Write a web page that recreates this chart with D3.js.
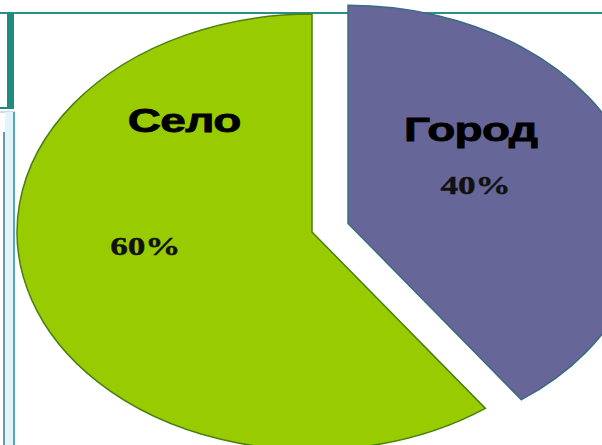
<!DOCTYPE html>
<html>
<head>
<meta charset="utf-8">
<script src="https://cdn.jsdelivr.net/npm/d3@7"></script>
<style>
  body { margin: 0; background: #fff; }
  svg { display: block; }
</style>
</head>
<body>
<div class="pie_chart"></div>
<script>
const categories = ['Город', 'Село']
const values = [40, 60]
const percentLabels = ['40%', '60%']
const colors = ['#666699', '#99cc00']
const strokes = ['#3d6a80', '#4a7f12']

const width = 602
const height = 445
const radius = 218
const stretch = 1.353 // the slide picture is stretched sideways

const svg = d3.select('.pie_chart').append('svg')
  .attr('width', width)
  .attr('height', height)

// slide frame behind the chart
const frame = svg.append('g')
frame.append('line').attr('x1', 0).attr('x2', width).attr('y1', 13).attr('y2', 13)
  .attr('stroke', '#2a8f88').attr('stroke-width', 2)
frame.append('rect').attr('x', 7).attr('y', 13).attr('width', 7).attr('height', 95)
  .attr('fill', '#1f8a80')
frame.append('line').attr('x1', 0).attr('x2', 14).attr('y1', 108).attr('y2', 108)
  .attr('stroke', '#1f8a80').attr('stroke-width', 2)
frame.append('line').attr('x1', 0).attr('x2', 15).attr('y1', 112).attr('y2', 112)
  .attr('stroke', '#9ab8c0').attr('stroke-width', 1)
frame.append('rect').attr('x', 5).attr('y', 112).attr('width', 8).attr('height', height - 112)
  .attr('fill', '#dff5fa')
frame.append('line').attr('x1', 4).attr('x2', 4).attr('y1', 132).attr('y2', height)
  .attr('stroke', '#6f97a8').attr('stroke-width', 2)
frame.append('line').attr('x1', 14).attr('x2', 14).attr('y1', 112).attr('y2', height)
  .attr('stroke', '#5aa6b8').attr('stroke-width', 2)

const g = svg.append('g')
  .attr('transform', 'translate(312,232) scale(' + stretch + ',1)')

const pie = d3.pie().sort(null).value((d) => {
  return d.value
})
const arc = d3.arc().outerRadius(radius).innerRadius(0)
const data = categories.map((c, i) => {
  return {name: c, value: values[i], pct: percentLabels[i], color: colors[i], stroke: strokes[i]}
})

const explode = [28, 0]
// label spots as (angle in degrees, radius) inside each slice
const namePos = [[43.8, 131], [320, 147]]
const pctPos = [[67.6, 102], [263.5, 124]]
const polar = (p) => {
  const a = p[0] * Math.PI / 180
  return [Math.sin(a) * p[1], -Math.cos(a) * p[1]]
}

const slices = g.selectAll('.arc')
  .data(pie(data))
  .enter().append('g')
  .attr('transform', (d, i) => {
    const mid = (d.startAngle + d.endAngle) / 2
    return 'translate(' + Math.sin(mid) * explode[i] + ',' + (-Math.cos(mid) * explode[i]) + ')'
  })

slices.append('path')
  .attr('d', arc)
  .style('fill', (d) => {
    return d.data.color
  })
  .attr('stroke', (d) => {
    return d.data.stroke
  })
  .attr('stroke-width', 1.5)
  .attr('vector-effect', 'non-scaling-stroke')

slices.append('text')
  .attr('transform', (d, i) => {
    return 'translate(' + polar(namePos[i]) + ')'
  })
  .attr('dy', '0.36em')
  .attr('text-anchor', 'middle')
  .attr('font-family', 'Liberation Sans, Arial, sans-serif')
  .attr('font-weight', 'bold')
  .attr('font-size', 34)
  .attr('letter-spacing', -0.5)
  .attr('fill', '#000')
  .attr('stroke', '#000')
  .attr('stroke-width', 0.8)
  .text((d) => {
    return d.data.name
  })

slices.append('text')
  .attr('transform', (d, i) => {
    return 'translate(' + polar(pctPos[i]) + ')'
  })
  .attr('dy', '0.35em')
  .attr('text-anchor', 'middle')
  .attr('font-family', 'Liberation Serif, Times New Roman, serif')
  .attr('font-weight', 'bold')
  .attr('font-size', 26)
  .attr('fill', '#111')
  .attr('stroke', '#111')
  .attr('stroke-width', 0.4)
  .text((d) => {
    return d.data.pct
  })
</script>
</body>
</html>
